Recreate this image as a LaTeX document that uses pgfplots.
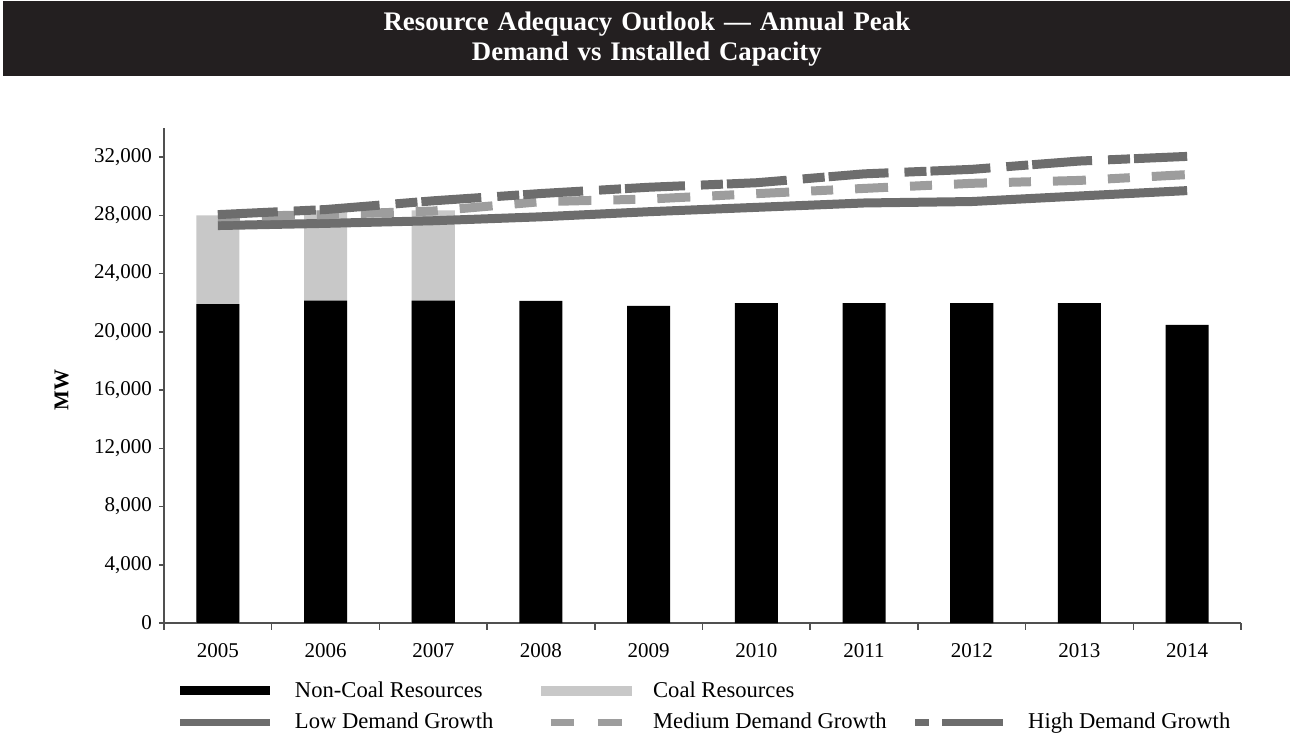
\documentclass[border=0pt]{standalone}
\usepackage{fontspec}
\setmainfont{Liberation Serif}
\usepackage{pgfplots}
\pgfplotsset{compat=1.18}
\usepackage{pgfplotstable}

\definecolor{titlebg}{HTML}{231F20}
\definecolor{darkline}{HTML}{6D6D6D}
\definecolor{midline}{HTML}{9D9D9D}
\definecolor{coal}{HTML}{C8C8C8}
\definecolor{axisgray}{HTML}{505050}

\pgfplotstableread{
x noncoal
0 21900
1 22150
2 22150
3 22120
4 21780
5 21980
6 21980
7 21980
8 21980
9 20470
}\noncoaltab

\pgfplotstableread{
x noncoal coal
0 21900 6100
1 22150 6170
2 22150 6200
}\coaltab

\pgfplotstableread{
x low medium high
0 27300 27900 28050
1 27450 28050 28400
2 27630 28300 29000
3 27900 28940 29500
4 28250 29120 29930
5 28550 29490 30240
6 28850 29850 30850
7 28950 30200 31160
8 29330 30400 31730
9 29700 30800 32050
}\demandtab

\begin{document}
\begin{tikzpicture}
\begin{axis}[
  scale only axis,
  width=538.5pt, height=247.5pt,
  xmin=-0.5, xmax=9.5, ymin=0, ymax=34000,
  axis x line*=bottom, axis y line*=left,
  axis line style={-},
  x axis line style={-, draw=axisgray, line width=0.8pt},
  y axis line style={-, draw=axisgray, line width=1.1pt},
  xtick={0,...,9},
  xticklabels={2005,2006,2007,2008,2009,2010,2011,2012,2013,2014},
  minor xtick={-0.5,0.5,...,9.5},
  major x tick style={draw=none},
  minor x tick style={draw=axisgray, line width=0.8pt},
  minor tick length=3.3pt,
  major tick length=2.5pt,
  ytick={0,4000,...,32000},
  major y tick style={draw=axisgray, line width=0.8pt},
  tick align=outside,
  scaled y ticks=false,
  /pgf/number format/.cd, 1000 sep={,}, assume math mode=true,
  /pgfplots/.cd,
  ticklabel style={font=\fontsize{10.5}{12}\selectfont},
  xticklabel style={yshift=-4pt},
  ylabel={MW},
  ylabel style={at={(axis description cs:-0.095,0.47)}, anchor=center, rotate=0, font=\fontsize{10.5}{12}\selectfont\bfseries},
  title={Resource Adequacy Outlook --- Annual Peak\\Demand vs Installed Capacity},
  title style={at={(0,1)}, anchor=north west, xshift=-80.5pt, yshift=57.5pt,
    fill=titlebg, text=white, font=\fontsize{13.4}{15}\selectfont\bfseries,
    minimum width=643.5pt, minimum height=37.5pt, inner sep=0pt,
    align=center, text width=643.5pt},
  legend columns=3,
  legend cell align=left,
  legend style={at={(0,0)}, anchor=north west, xshift=6pt, yshift=-27pt,
    draw=none, fill=none, inner sep=0pt,
    font=\fontsize{11.3}{13}\selectfont,
    row sep=2.5pt,
    /tikz/column 1/.style={column sep=8.5pt},
    /tikz/column 2/.style={column sep=22pt},
    /tikz/column 3/.style={column sep=8.5pt},
    /tikz/column 4/.style={column sep=10.5pt},
    /tikz/column 5/.style={column sep=8.5pt}},
]
\coordinate (O) at (rel axis cs:0,0);
\coordinate (T) at (rel axis cs:1,1);

\addplot[ybar, bar width=0.4, bar shift=0pt, fill=coal, draw=none, forget plot]
  table[x=x, y expr=\thisrow{noncoal}+\thisrow{coal}] {\coaltab};
\addplot[ybar, bar width=0.4, bar shift=0pt, fill=black, draw=none,
  legend image code/.code={\fill[black] (0pt,-2.3pt) rectangle (45pt,2.3pt);}]
  table[x=x, y=noncoal] {\noncoaltab};
\addlegendentry{Non-Coal Resources}
\addlegendimage{legend image code/.code={\fill[coal] (0pt,-2.3pt) rectangle (45pt,2.3pt);}}
\addlegendentry{Coal Resources}
\addlegendimage{empty legend}
\addlegendentry{}

\addplot[darkline, line width=4.5pt, line cap=butt,
  legend image code/.code={\draw[darkline, line width=3.8pt] (0pt,0pt) -- (45pt,0pt);}]
  table[x=x, y=low] {\demandtab};
\addlegendentry{Low Demand Growth}

\addplot[midline, line width=4.5pt, line cap=butt, dash pattern=on 11pt off 11pt on 16.5pt off 11pt,
  legend image code/.code={\draw[midline, line width=3.8pt, solid] (4.5pt,0pt) -- (16pt,0pt) (28pt,0pt) -- (40pt,0pt);}]
  table[x=x, y=medium] {\demandtab};
\addlegendentry{Medium Demand Growth}

\addplot[darkline, line width=4.5pt, line cap=butt, dash pattern=on 30pt off 8pt on 11pt off 2pt,
  legend image code/.code={\draw[darkline, line width=3.8pt, solid] (0.5pt,0pt) -- (7.5pt,0pt) (14pt,0pt) -- (44.5pt,0pt);}]
  table[x=x, y=high] {\demandtab};
\addlegendentry{High Demand Growth}
\end{axis}
\pgfresetboundingbox
\path ([xshift=-82pt, yshift=-56pt]O) rectangle ([xshift=24.5pt, yshift=64pt]T);
\end{tikzpicture}
\end{document}
